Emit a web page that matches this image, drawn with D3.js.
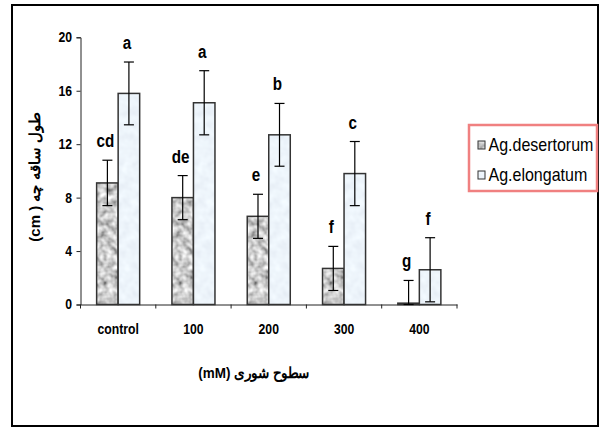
<!DOCTYPE html>
<html>
<head>
<meta charset="utf-8">
<script src="https://cdn.jsdelivr.net/npm/d3@7"></script>
<style>
  body { margin: 0; background: #fff; }
  svg text { font-family: "Liberation Sans", Arial, sans-serif; }
</style>
</head>
<body>
<svg id="chart" width="604" height="427"></svg>
<script>
// data
const categories = ["control", "100", "200", "300", "400"];
const seriesNames = ["Ag.desertorum", "Ag.elongatum"];
const desertorum = [9.1, 8.0, 6.6, 2.7, 0.1];
const elongatum = [15.8, 15.1, 12.7, 9.8, 2.6];
const desertorumErr = [1.7, 1.65, 1.65, 1.65, 1.7];
const elongatumErr = [2.35, 2.4, 2.35, 2.4, 2.4];
const desertorumLetters = ["cd", "de", "e", "f", "g"];
const elongatumLetters = ["a", "a", "b", "c", "f"];
const yTicks = [0, 4, 8, 12, 16, 20];

const svg = d3.select("#chart");
const plotLeft = 80.5, plotRight = 457, plotTop = 37.3, plotBottom = 304.5;
const squeeze = "scale(0.87,1)"; // the original text is tall and narrow

// textures for the bars
const defs = svg.append("defs");
function texture(id, freq, octaves, rows) {
  const f = defs.append("filter").attr("id", id)
    .attr("x", 0).attr("y", 0).attr("width", 1).attr("height", 1);
  f.append("feTurbulence").attr("type", "fractalNoise")
    .attr("baseFrequency", freq).attr("numOctaves", octaves).attr("seed", 7).attr("result", "n");
  f.append("feColorMatrix").attr("in", "n").attr("type", "matrix")
    .attr("values", rows).attr("result", "c");
  f.append("feComposite").attr("in", "c").attr("in2", "SourceGraphic").attr("operator", "in");
}
texture("granite", 0.15, 2, "1.3 0 0 0 -0.05  1.3 0 0 0 -0.05  1.3 0 0 0 -0.05  0 0 0 0 1");
texture("icy", 0.12, 2, "0.18 0 0 0 0.76  0.18 0 0 0 0.82  0.15 0 0 0 0.89  0 0 0 0 1");
const fills = ["url(#granite)", "url(#icy)"];

// frame
svg.append("rect").attr("x", 12).attr("y", 5).attr("width", 586).attr("height", 421)
  .attr("fill", "#fff").attr("stroke", "#000").attr("stroke-width", 2);

const x0 = d3.scaleBand().domain(categories).range([plotLeft, plotRight]);
const x1 = d3.scaleBand().domain(seriesNames).range([0, x0.bandwidth()]).paddingOuter(0.75);
const y = d3.scaleLinear().domain([0, 20]).range([plotBottom, plotTop]);

// axes
const yAxis = svg.append("g").attr("transform", `translate(${plotLeft},0)`)
  .call(d3.axisLeft(y).tickValues(yTicks).tickSize(4).tickPadding(5.8));
const xAxis = svg.append("g").attr("transform", `translate(0,${plotBottom})`)
  .call(d3.axisBottom(x0).tickSize(0).tickPadding(19.5));
// tick marks between the groups
xAxis.selectAll(".sep").data(d3.range(categories.length + 1)).join("line")
  .attr("class", "sep")
  .attr("x1", i => plotLeft + i * x0.step()).attr("x2", i => plotLeft + i * x0.step())
  .attr("y1", 0).attr("y2", 4).attr("stroke", "#222");
[yAxis, xAxis].forEach(g => {
  g.select(".domain").attr("stroke", "#222");
  g.selectAll(".tick line").attr("stroke", "#222");
  g.selectAll("text").attr("font-size", 14).attr("font-weight", "bold")
    .attr("fill", "#000").attr("font-family", "Liberation Sans, Arial, sans-serif")
    .attr("transform", squeeze);
});

const rows = categories.map((c, i) => ({
  cat: c,
  bars: [
    { s: seriesNames[0], v: desertorum[i], e: desertorumErr[i], t: desertorumLetters[i], k: 0 },
    { s: seriesNames[1], v: elongatum[i], e: elongatumErr[i], t: elongatumLetters[i], k: 1 }
  ]
}));

const groups = svg.selectAll(".grp").data(rows).join("g")
  .attr("class", "grp")
  .attr("transform", d => `translate(${x0(d.cat)},0)`);
const bars = groups.selectAll(".bar").data(d => d.bars).join("g").attr("class", "bar");
bars.append("rect")
  .attr("x", d => x1(d.s)).attr("y", d => y(d.v))
  .attr("width", x1.bandwidth()).attr("height", d => y(0) - y(d.v))
  .attr("fill", "#999").attr("filter", d => fills[d.k]);
bars.append("rect")
  .attr("x", d => x1(d.s)).attr("y", d => y(d.v))
  .attr("width", x1.bandwidth()).attr("height", d => y(0) - y(d.v))
  .attr("fill", "none").attr("stroke", "#333").attr("stroke-width", 1.5);

// error bars
const cx = d => x1(d.s) + x1.bandwidth() / 2;
bars.append("line")
  .attr("x1", cx).attr("x2", cx)
  .attr("y1", d => y(d.v + d.e)).attr("y2", d => y(Math.max(0, d.v - d.e)))
  .attr("stroke", "#000").attr("stroke-width", 1.2);
bars.selectAll(".cap").data(d => [d.v + d.e, Math.max(0, d.v - d.e)].map(v => ({ d, v }))).join("line")
  .attr("class", "cap")
  .attr("x1", o => cx(o.d) - 5).attr("x2", o => cx(o.d) + 5)
  .attr("y1", o => y(o.v)).attr("y2", o => y(o.v))
  .attr("stroke", "#000").attr("stroke-width", 1.2);

// significance letters
bars.append("text")
  .attr("transform", d => `translate(${cx(d) - 2},${y(d.v + d.e) - 13}) ${squeeze}`)
  .attr("text-anchor", "middle").attr("font-size", 17.5).attr("font-weight", "bold")
  .text(d => d.t);

// axis titles
svg.append("text")
  .attr("transform", `translate(40,177) rotate(-90)`)
  .attr("text-anchor", "middle").attr("font-size", 15).attr("font-weight", "bold")
  .attr("direction", "ltr")
  .text("(cm ) طول ساقه چه");
svg.append("text")
  .attr("transform", `translate(254,378) scale(0.9,1)`)
  .attr("text-anchor", "middle").attr("font-size", 15).attr("font-weight", "bold")
  .text("(mM) سطوح شوری");

// legend
const lg = svg.append("g");
lg.append("rect").attr("x", 469).attr("y", 125).attr("width", 128).attr("height", 66)
  .attr("fill", "#fff").attr("stroke", "#f08080").attr("stroke-width", 2.5);
const items = lg.selectAll(".item").data(seriesNames).join("g")
  .attr("class", "item")
  .attr("transform", (d, i) => `translate(478,${141 + i * 30})`);
items.append("rect").attr("width", 7).attr("height", 8)
  .attr("fill", "#999").attr("filter", (d, i) => fills[i]);
items.append("rect").attr("width", 7).attr("height", 8)
  .attr("fill", "none").attr("stroke", "#333").attr("stroke-width", 1);
items.append("text").attr("transform", "translate(10.5,9.5) scale(0.89,1)")
  .attr("font-size", 18).text(d => d);
</script>
</body>
</html>
